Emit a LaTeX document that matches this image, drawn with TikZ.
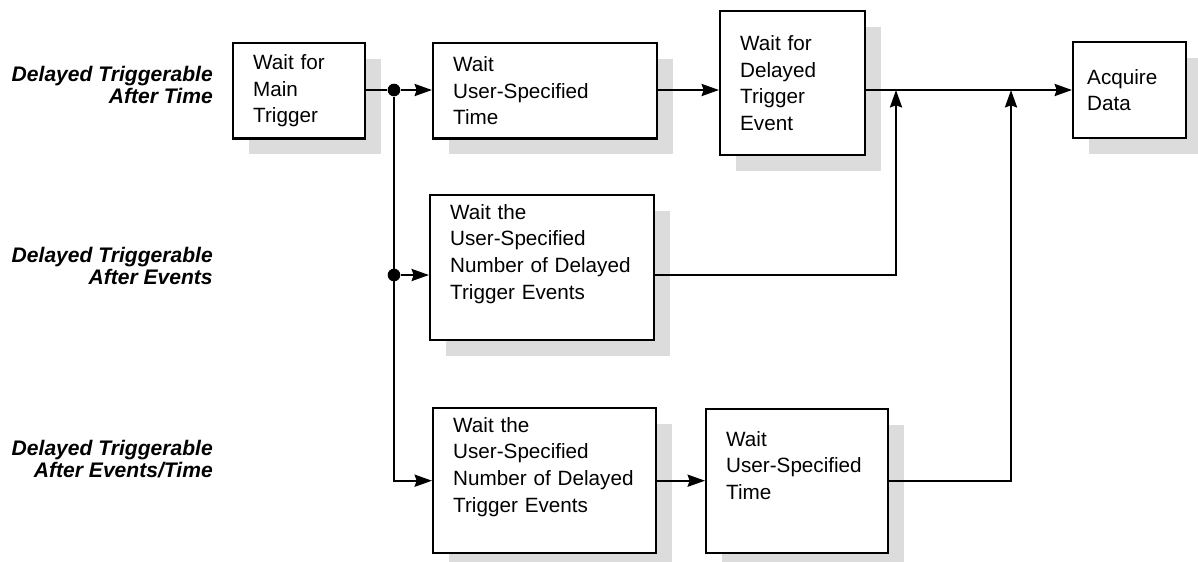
\documentclass[tikz,border=0pt]{standalone}
\usepackage{fontspec}
\setmainfont{Liberation Sans}
\usetikzlibrary{arrows.meta,shadows}
\definecolor{Ink}{HTML}{000000}
\definecolor{Shade}{HTML}{DCDCDC}

\tikzset{
  stagebox/.style={draw=Ink,line width=1.8pt,fill=white,anchor=north west,align=left,
    inner xsep=15pt,inner ysep=0pt,font=\fontsize{15.5}{20}\selectfont,
    drop shadow={shadow xshift=12pt,shadow yshift=-11.5pt,fill=Shade,opacity=1}},
  wire/.style={draw=Ink,line width=1.8pt},
  flow/.style={wire,-{Stealth[length=13pt,width=9pt,inset=1.5pt]}},
  junction/.style={circle,fill=Ink,inner sep=0pt,minimum size=9.5pt},
  modelabel/.style={anchor=east,align=right,inner xsep=0pt,
    font=\fontsize{15.8}{16}\selectfont\bfseries\itshape}
}

\begin{document}
\begin{tikzpicture}[x=0.75pt,y=-0.75pt]
        \useasboundingbox (0,0) rectangle (1198,561);
        % trigger modes
        \node[modelabel] (modeTime) at (213,85) {Delayed Triggerable\\After Time};
        \node[modelabel] (modeEvents) at (213,266) {Delayed Triggerable\\After Events};
        \node[modelabel] (modeBoth) at (213,459) {Delayed Triggerable\\After Events/Time};
        % stages
        \node[stagebox,text width=69pt,minimum height=71.6pt] (mainTrig) at (232,42)
              {Wait for\\Main\\Trigger};
        \node[stagebox,text width=138pt,minimum height=71.6pt] (userTime) at (432,42)
              {Wait\\User-Specified\\Time};
        \node[stagebox,text width=78.75pt,minimum height=108pt] (delayedEvt) at (719,10)
              {Wait for\\Delayed\\Trigger\\Event};
        \node[stagebox,inner xsep=10.5pt,text width=63.75pt,minimum height=72pt] (acquire) at (1072,41)
              {Acquire\\Data};
        \node[stagebox,text width=138pt,minimum height=108.75pt] (countEvts) at (429,194)
              {Wait the\\User-Specified\\Number of Delayed\\Trigger Events\\[4pt]\mbox{}};
        \node[stagebox,text width=137.25pt,minimum height=108.75pt] (countEvtsB) at (432,407)
              {Wait the\\User-Specified\\Number of Delayed\\Trigger Events\\[4pt]\mbox{}};
        \node[stagebox,text width=106.5pt,minimum height=108pt] (userTimeB) at (705,408)
              {Wait\\User-Specified\\Time\\[4pt]\mbox{}};
        % branch points and merge points
        \node[junction] (split1) at (394,90) {};
        \node[junction] (split2) at (394,275) {};
        \coordinate (merge1) at (896,90);
        \coordinate (merge2) at (1011,90);
        % connectors
        \draw[wire] (mainTrig.east |- split1) -- (split1);
        \draw[flow] (split1) -- (userTime.west |- split1);
        \draw[flow] (split1) |- (countEvtsB.west);
        \draw[flow] (split2) -- (countEvts.west |- split2);
        \draw[flow] (userTime.east |- split1) -- (delayedEvt.west |- split1);
        \draw[flow] (delayedEvt.east |- split1) -- (acquire.west |- split1);
        \draw[flow] (countEvts.east |- split2) -| (merge1);
        \draw[flow] (countEvtsB.east) -- (userTimeB.west |- countEvtsB.east);
        \draw[flow] (userTimeB.east) -| (merge2);
\end{tikzpicture}
\end{document}
